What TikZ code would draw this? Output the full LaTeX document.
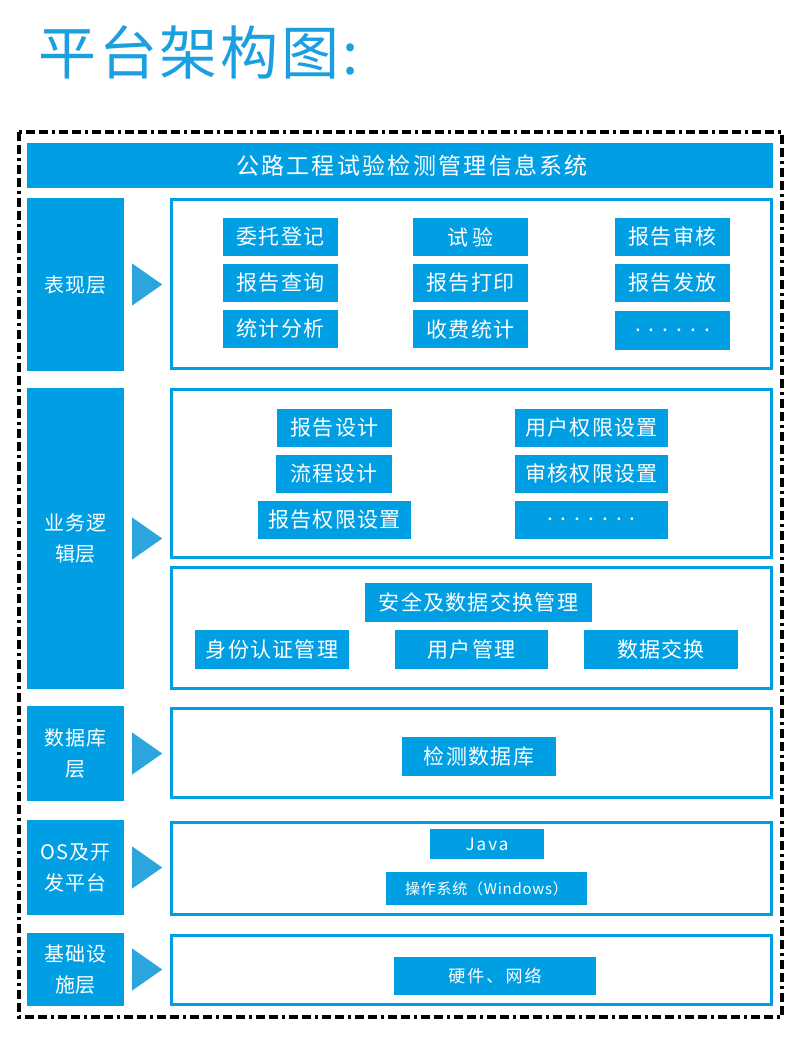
\documentclass[tikz,border=0pt]{standalone}
\usepackage{fontspec}
\setmainfont{Noto Sans CJK SC}
\usetikzlibrary{calc}
\definecolor{skyblue}{HTML}{009FE3}
\definecolor{arrowblue}{HTML}{2AA5DE}
\definecolor{titleblue}{HTML}{1A9FE0}
\newcommand{\spaced}[1]{\addfontfeature{LetterSpace=#1}}

\begin{document}
\begin{tikzpicture}[x=1pt,y=-1pt,
  layer/.style={fill=skyblue,text=white,inner sep=0pt,align=center,minimum width=97pt,
    font=\fontsize{20}{31}\selectfont\spaced{5}},
  panel/.style={draw=skyblue,line width=3pt,inner sep=0pt,minimum width=600pt},
  item/.style={fill=skyblue,text=white,inner sep=0pt,minimum height=38pt,
    font=\fontsize{21}{24}\selectfont\spaced{6}},
  smallitem/.style={item,font=\fontsize{17}{18}\selectfont\spaced{12}},
  borderline/.style={line width=3.5pt,dash pattern=on 9pt off 4pt on 9pt off 4pt on 3pt off 4pt}]
  \path[use as bounding box] (0,0) rectangle (800,1041);

  % title
  \node[anchor=west,inner sep=0pt,text=titleblue,font=\fontsize{58}{60}\selectfont\spaced{5}]
    (title) at (38,52) {平台架构图:};

  % outer frame and header
  \draw[borderline] (19,132) rectangle (782,1017);
  \node[fill=skyblue,inner sep=0pt,minimum width=746pt,minimum height=45pt] (sys) at (400,165.5) {};
  \node[text=white,inner sep=0pt,font=\fontsize{23}{26}\selectfont\spaced{10}]
    (systext) at ($(sys.center)+(12,0)$) {公路工程试验检测管理信息系统};

  % layers on the left
  \node[layer,minimum height=173pt] (L1) at (75.5,284.5) {表现层};
  \node[layer,minimum height=301pt] (L2) at (75.5,538.5) {业务逻\\辑层};
  \node[layer,minimum height=95pt] (L3) at (75.5,753.5) {数据库\\层};
  \node[layer,minimum height=95pt] (L4) at (75.5,867.5) {OS及开\\发平台};
  \node[layer,minimum height=73pt] (L5) at (75.5,969.5) {基础设\\施层};

  \foreach \n in {L1,L2,L3,L4,L5}
    \fill[arrowblue] ($(\n.east)+(8,-21)$) -- ($(\n.east)+(38,0)$) -- ($(\n.east)+(8,21)$) -- cycle;

  % panels on the right
  \node[panel,minimum height=169pt] (P1) at (471.5,284) {};
  \node[panel,minimum height=168pt] (P2) at (471.5,473.5) {};
  \node[panel,minimum height=121pt] (P2b) at (471.5,628) {};
  \node[panel,minimum height=89pt] (P3) at (471.5,753) {};
  \node[panel,minimum height=92pt] (P4) at (471.5,868.5) {};
  \node[panel,minimum height=69pt] (P5) at (471.5,970) {};

  % presentation layer
  \node[item,minimum width=115pt] (wtdj) at (280.5,237) {委托登记};
  \node[item,minimum width=115pt] (bgcx) at (280.5,283) {报告查询};
  \node[item,minimum width=115pt] (tjfx) at (280.5,329) {统计分析};
  \node[item,minimum width=115pt] (sy) at (470.5,237) {试\,验};
  \node[item,minimum width=115pt] (bgdy) at (470.5,283) {报告打印};
  \node[item,minimum width=115pt] (sftj) at (470.5,329) {收费统计};
  \node[item,minimum width=115pt] (bgsh) at (672.5,237) {报告审核};
  \node[item,minimum width=115pt] (bgff) at (672.5,283) {报告发放};
  \node[item,minimum width=115pt,minimum height=39pt] (more1) at (672.5,330) {. . . . . .};

  % business logic layer
  \node[item,minimum width=115pt] (bgsj) at (334.5,428) {报告设计};
  \node[item,minimum width=116pt] (lcsj) at (334,473.5) {流程设计};
  \node[item,minimum width=153pt] (bgqx) at (334.5,519.5) {报告权限设置};
  \node[item,minimum width=153pt] (yhqx) at (591.5,428) {用户权限设置};
  \node[item,minimum width=153pt] (shqx) at (591.5,473.5) {审核权限设置};
  \node[item,minimum width=153pt] (more2) at (591.5,519.5) {. . . . . . .};

  \node[item,minimum width=227pt,minimum height=39pt] (aqgl) at (478.5,602.5) {安全及数据交换管理};
  \node[item,minimum width=154pt,minimum height=39pt] (sfrz) at (272,649.5) {身份认证管理};
  \node[item,minimum width=153pt,minimum height=39pt] (yhgl) at (471.5,649.5) {用户管理};
  \node[item,minimum width=154pt,minimum height=39pt] (sjjh) at (661,649.5) {数据交换};

  % database layer
  \node[item,minimum width=154pt,minimum height=39pt] (jcsjk) at (479,756.5) {检测数据库};

  % OS and platform
  \node[smallitem,minimum width=114pt,minimum height=30pt] (java) at (487,844) {Java};
  \node[smallitem,minimum width=201pt,minimum height=33pt,font=\fontsize{15}{18}\selectfont\spaced{5}]
    (czxt) at (486.5,888.5) {操作系统（Windows）};

  % infrastructure
  \node[smallitem,minimum width=202pt] (yjwl) at (495,976) {硬件、网络};
\end{tikzpicture}
\end{document}
